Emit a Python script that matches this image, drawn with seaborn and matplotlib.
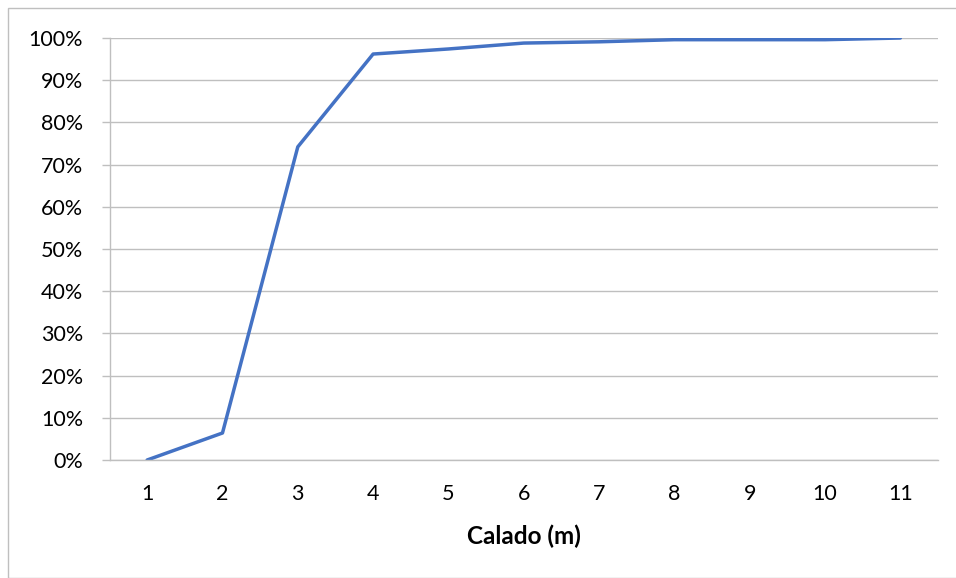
import matplotlib
matplotlib.use("Agg")
import matplotlib.pyplot as plt
import seaborn as sns
import pandas as pd
from matplotlib.patches import Rectangle
from matplotlib.ticker import PercentFormatter

calado = [1, 2, 3, 4, 5, 6, 7, 8, 9, 10, 11]
acumulado = [0.0, 6.4, 74.2, 96.2, 97.4, 98.8, 99.1, 99.6, 99.6, 99.6, 100.0]
yticks = [0, 10, 20, 30, 40, 50, 60, 70, 80, 90, 100]

df = pd.DataFrame({"calado": calado, "pct": acumulado})

sns.set_theme(style="white")
plt.rcParams['font.family'] = ['Lato', 'DejaVu Sans']

fig = plt.figure(figsize=(9.56, 5.78), dpi=100)
ax = fig.add_axes([109.5/956, 1-460/578, (938-109.5)/956, (460-38)/578])

sns.lineplot(data=df, x="calado", y="pct", ax=ax, color="#4472C4", linewidth=2.5)

ax.set_xlim(0.5, 11.5)
ax.set_ylim(0, 100)
ax.set_yticks(yticks)
ax.yaxis.set_major_formatter(PercentFormatter(decimals=0))
ax.set_xticks(calado)
ax.set_xticklabels([str(c) for c in calado])
ax.grid(axis="y", color="#BFBFBF", linewidth=1)
ax.set_axisbelow(True)
for s in ["top", "right"]:
    ax.spines[s].set_visible(False)
ax.spines["left"].set_color("#BFBFBF")
ax.spines["bottom"].set_color("#BFBFBF")
ax.spines["left"].set_linewidth(1)
ax.spines["bottom"].set_linewidth(1)
ax.tick_params(axis="y", length=6, width=1, color="#BFBFBF", labelsize=15.5, pad=13, left=True, labelcolor="black")
ax.tick_params(axis="x", length=0, labelsize=15.5, pad=17, labelcolor="black")
ax.set_xlabel("Calado (m)", fontsize=17.5, fontweight="bold", labelpad=15, color="black")
ax.set_ylabel("")

fig.patches.append(Rectangle((8/956, 0), 1, 1-8/578, transform=fig.transFigure,
                             fill=False, edgecolor="#BFBFBF", linewidth=1))

fig.savefig("out.png", dpi=100)
